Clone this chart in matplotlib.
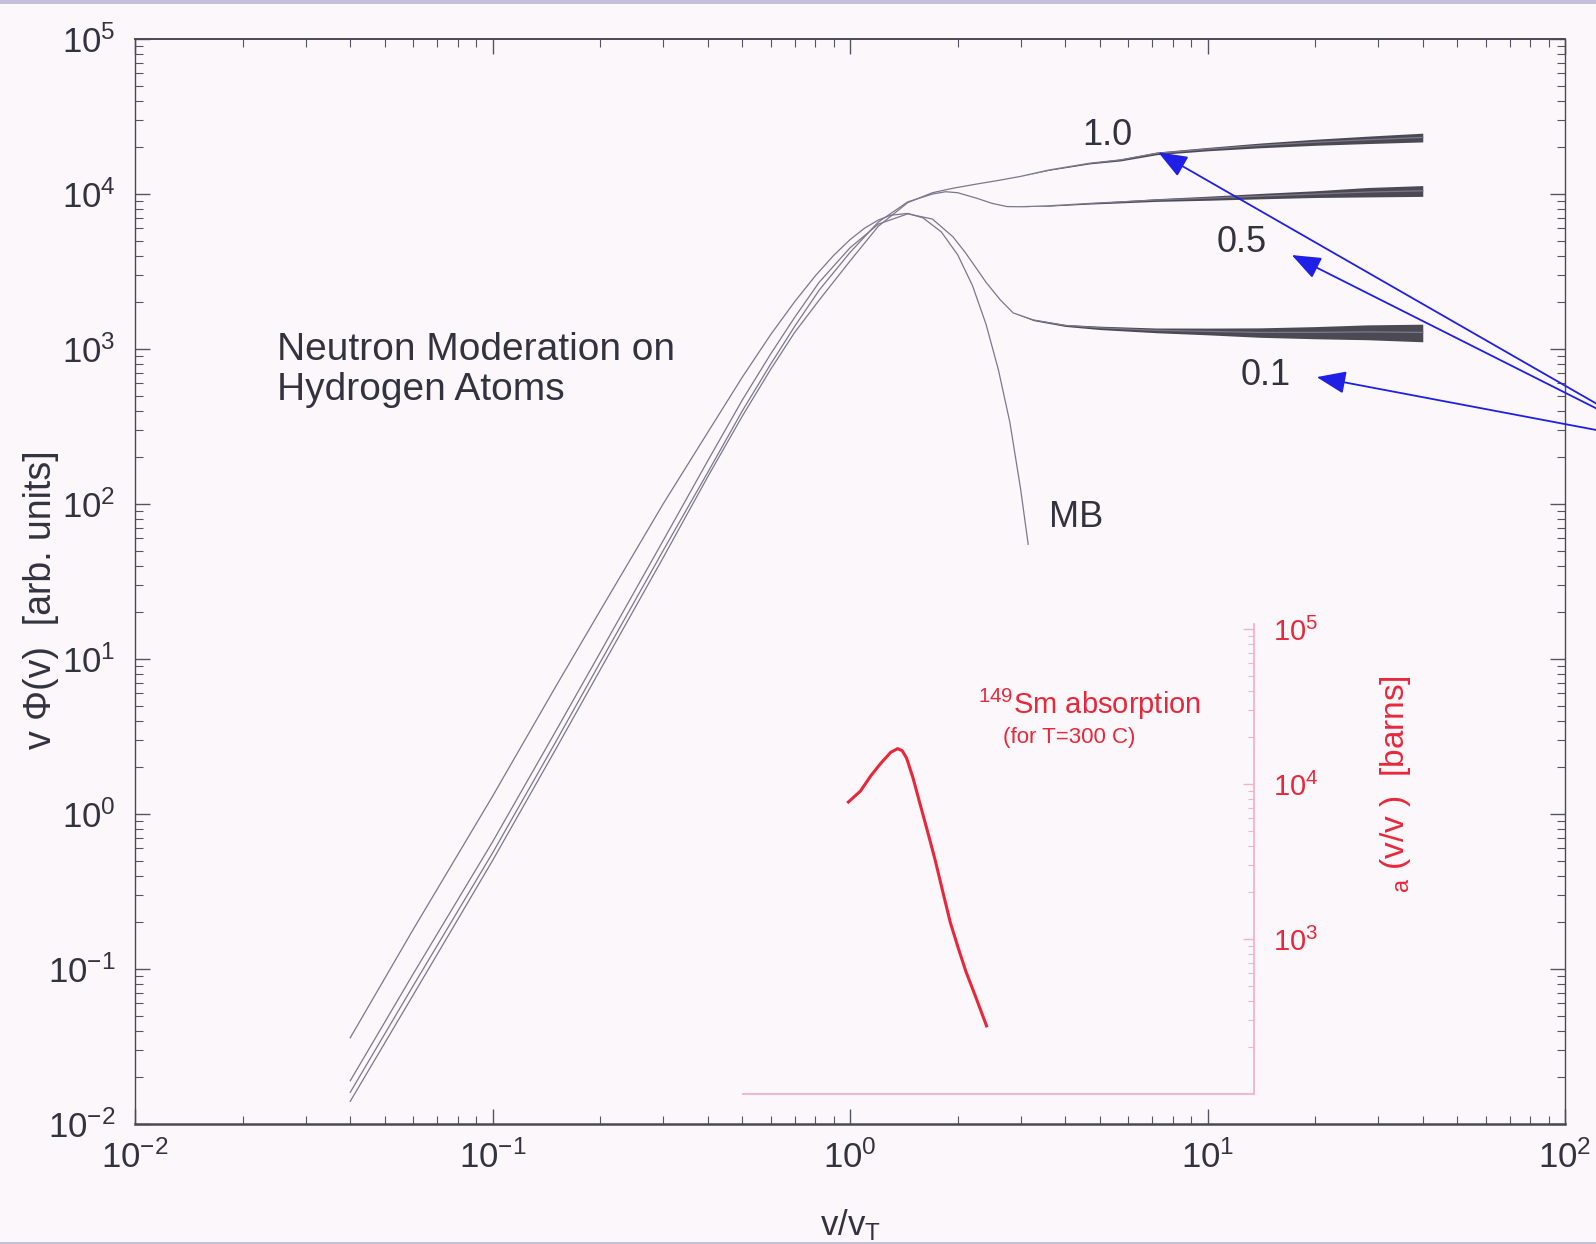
import numpy as np
import matplotlib as mpl
import matplotlib.pyplot as plt
from matplotlib.patches import Rectangle
from matplotlib.ticker import LogLocator, NullFormatter

mpl.rcParams['font.family'] = ['Liberation Sans', 'DejaVu Sans']
mpl.rcParams['mathtext.fontset'] = 'custom'
mpl.rcParams['mathtext.rm'] = 'Liberation Sans'

# --- values ---
# Maxwell-Boltzmann curve
v_mb = [0.04, 0.06, 0.1, 0.15, 0.2, 0.3, 0.4, 0.5, 0.6, 0.7, 0.8, 0.9, 1.0,
        1.1, 1.2, 1.3, 1.45, 1.6, 1.8, 2.0, 2.2, 2.4, 2.6, 2.8, 3.0, 3.15]
phi_mb = [0.036, 0.18, 1.3, 6.6, 20.5, 100, 290, 660, 1240, 2020, 2970, 4020,
          5080, 6040, 6800, 7300, 7500, 7020, 5700, 4060, 2570, 1450, 735,
          336, 125, 55]

# moderated spectra (absorption ratio 0.1, 0.5, 1.0)
v_01 = [0.04, 0.06, 0.1, 0.15, 0.2, 0.3, 0.4, 0.5, 0.6, 0.7, 0.82, 1.0, 1.2,
        1.45, 1.7, 1.94, 2.1, 2.26, 2.4, 2.63, 2.86, 3.26, 4.0, 5.0, 7.2,
        10, 14, 20, 28, 40]
phi_01 = [0.019, 0.093, 0.66, 3.4, 11, 58, 190, 470, 930, 1600, 2700, 4500,
          6400, 7450, 6900, 5300, 4200, 3300, 2700, 2080, 1710, 1540, 1420,
          1370, 1320, 1300, 1280, 1280, 1290, 1280]
noise_01 = [0] * 21 + [0.01, 0.015, 0.025, 0.035, 0.05, 0.07, 0.09, 0.11, 0.13]

v_05 = [0.04, 0.06, 0.1, 0.15, 0.2, 0.3, 0.4, 0.5, 0.6, 0.7, 0.82, 1.0, 1.2,
        1.45, 1.7, 1.85, 2.0, 2.26, 2.5, 2.75, 3.0, 3.6, 4.67, 5.7, 7.2, 10,
        14, 20, 28, 40]
phi_05 = [0.016, 0.078, 0.56, 2.9, 9.5, 50, 160, 400, 800, 1400, 2400, 4200,
          6600, 8900, 10000, 10350, 10200, 9400, 8700, 8300, 8280, 8400, 8700,
          8900, 9150, 9400, 9700, 10000, 10300, 10500]
noise_05 = [0] * 21 + [0.005, 0.01, 0.015, 0.02, 0.03, 0.04, 0.05, 0.07, 0.08]

v_10 = [0.04, 0.06, 0.1, 0.15, 0.2, 0.3, 0.4, 0.5, 0.6, 0.7, 0.82, 1.0, 1.2,
        1.45, 1.7, 1.94, 2.26, 2.63, 3.0, 3.6, 4.67, 5.7, 7.2, 10, 14, 20,
        28, 40]
phi_10 = [0.014, 0.068, 0.5, 2.6, 8.5, 45, 150, 370, 740, 1280, 2070, 3700,
          6200, 8800, 10200, 10900, 11600, 12300, 13000, 14300, 15800, 16600,
          18300, 19500, 20600, 21600, 22400, 23200]
noise_10 = [0] * 19 + [0.005, 0.01, 0.015, 0.02, 0.025, 0.035, 0.045, 0.055, 0.065]

# 149Sm absorption cross section (inset)
v_sm = [0.99, 1.07, 1.144, 1.22, 1.30, 1.36, 1.40, 1.44, 1.50, 1.57, 1.65,
        1.73, 1.82, 1.91, 2.01, 2.11, 2.25, 2.41]
sigma_sm = [7650, 9000, 11300, 13600, 16000, 16900, 16400, 14700, 11000,
            7450, 4900, 3250, 2000, 1270, 870, 617, 420, 275]

xticks = [1e-2, 1e-1, 1e0, 1e1, 1e2]
xtick_labels = [r'$\mathregular{10^{-2}}$', r'$\mathregular{10^{-1}}$',
                r'$\mathregular{10^{0}}$', r'$\mathregular{10^{1}}$',
                r'$\mathregular{10^{2}}$']
yticks = [1e-2, 1e-1, 1e0, 1e1, 1e2, 1e3, 1e4, 1e5]
ytick_labels = [r'$\mathregular{10^{%d}}$' % e for e in range(-2, 6)]
inset_yticks = [1e3, 1e4, 1e5]
inset_ytick_labels = [r'$\mathregular{10^{3}}$', r'$\mathregular{10^{4}}$',
                      r'$\mathregular{10^{5}}$']

bg = '#fcf7fa'
dark = '#33333f'
curve_c = '#7a788e'
band_c = '#2c2c36'
red = '#e8283a'
pink = '#f5b3c6'
blue = '#1f1fe6'

fig = plt.figure(figsize=(15.96, 12.44), dpi=100, facecolor=bg)
fig.add_artist(Rectangle((0, 0.9965), 1, 0.0035, transform=fig.transFigure,
                         color='#c4c0da', lw=0))
fig.add_artist(Rectangle((0, 0), 1, 0.002, transform=fig.transFigure,
                         color='#c4c0da', lw=0))

ax = fig.add_axes([0.0846, 0.0965, 0.8960, 0.8721], facecolor=bg)
ax.set_xscale('log')
ax.set_yscale('log')
ax.set_xlim(1e-2, 1e2)
ax.set_ylim(1e-2, 1e5)

for v, phi, noise in [(v_01, phi_01, noise_01), (v_05, phi_05, noise_05),
                      (v_10, phi_10, noise_10)]:
    phi = np.array(phi, dtype=float)
    noise = np.array(noise, dtype=float)
    ax.fill_between(v, phi * (1 - noise), phi * (1 + noise),
                    color=band_c, lw=0, alpha=0.85)
    ax.plot(v, phi, color=curve_c, lw=0.9)
ax.plot(v_mb, phi_mb, color=curve_c, lw=0.9)

ax.set_xticks(xticks)
ax.set_xticklabels(xtick_labels)
ax.set_yticks(yticks)
ax.set_yticklabels(ytick_labels)
ax.xaxis.set_minor_locator(LogLocator(base=10, subs=np.arange(2, 10)))
ax.yaxis.set_minor_locator(LogLocator(base=10, subs=np.arange(2, 10), numticks=20))
ax.xaxis.set_minor_formatter(NullFormatter())
ax.yaxis.set_minor_formatter(NullFormatter())
ax.tick_params(which='both', direction='in', top=True, right=True,
               color='#55555f', labelcolor=dark, labelsize=25)
ax.tick_params(which='major', length=11, width=1)
ax.tick_params(which='minor', length=6, width=0.8)
ax.tick_params(axis='x', pad=12)
ax.tick_params(axis='y', pad=14)
for side, lw in [('left', 1.0), ('right', 1.0), ('top', 1.4), ('bottom', 1.8)]:
    ax.spines[side].set_linewidth(lw)
    ax.spines[side].set_color('#4a4a55')

ax.set_xlabel(r'v/v$\mathregular{_T}$', fontsize=25, color=dark)
ax.xaxis.set_label_coords(0.5, -0.077)
ax.set_ylabel('v Φ(v)  [arb. units]', fontsize=27, color=dark, va='center')
ax.yaxis.set_label_coords(-0.066, 0.483)

ax.text(0.0249, 730, 'Neutron Moderation on\nHydrogen Atoms', fontsize=28,
        color=dark, ha='left', va='center', linespacing=1.15)
ax.text(4.29, 82, 'MB', fontsize=26, color=dark, ha='center', va='center')

# labels with arrows coming from outside the right edge
tail = (1665, 801)
for txt, pos, tip in [('1.0', (5.24, 24000), (7.28, 18600)),
                      ('0.5', (12.5, 4900), (17.2, 4040)),
                      ('0.1', (14.5, 679), (20.2, 659))]:
    ax.text(pos[0], pos[1], txt, fontsize=26, color=dark, ha='center', va='center')
    ax.annotate('', xy=tip, xycoords='data', xytext=tail,
                textcoords='figure pixels', annotation_clip=False,
                arrowprops=dict(arrowstyle='-|>,head_length=0.9,head_width=0.35',
                                mutation_scale=20, color=blue, lw=1.3,
                                shrinkA=0, shrinkB=0))

# inset: Sm-149 absorption
ax_in = fig.add_axes([0.4655, 0.1206, 0.3202, 0.3778], facecolor='none')
ax_in.set_xscale('log')
ax_in.set_yscale('log')
ax_in.set_xlim(0.502, 13.49)
ax_in.set_ylim(1e2, 1.077e5)
ax_in.plot(v_sm, sigma_sm, color=red, lw=2.2)
ax_in.spines['left'].set_visible(False)
ax_in.spines['top'].set_visible(False)
for side in ['right', 'bottom']:
    ax_in.spines[side].set_color(pink)
    ax_in.spines[side].set_linewidth(1.3)
ax_in.yaxis.tick_right()
ax_in.set_yticks(inset_yticks)
ax_in.set_yticklabels(inset_ytick_labels)
ax_in.yaxis.set_minor_locator(LogLocator(base=10, subs=np.arange(2, 10), numticks=20))
ax_in.yaxis.set_minor_formatter(NullFormatter())
ax_in.tick_params(axis='y', which='both', direction='in', color=pink,
                  labelcolor=red, labelsize=21, pad=14)
ax_in.tick_params(axis='y', which='major', length=8, width=1)
ax_in.tick_params(axis='y', which='minor', length=4, width=0.8)
ax_in.tick_params(axis='x', which='both', bottom=False, labelbottom=False)
ax_in.text(1.276, 0.66, r'$\mathregular{_a}$ (v/v )  [barns]', rotation=90,
           transform=ax_in.transAxes, fontsize=24, color=red,
           ha='center', va='center')
ax_in.text(4.69, 32800, r'$\mathregular{^{149}}$Sm absorption', fontsize=21,
           color=red, ha='center', va='center')
ax_in.text(4.10, 19800, '(for T=300 C)', fontsize=16, color=red,
           ha='center', va='center')

fig.savefig('out.png', dpi=100, facecolor=bg)
